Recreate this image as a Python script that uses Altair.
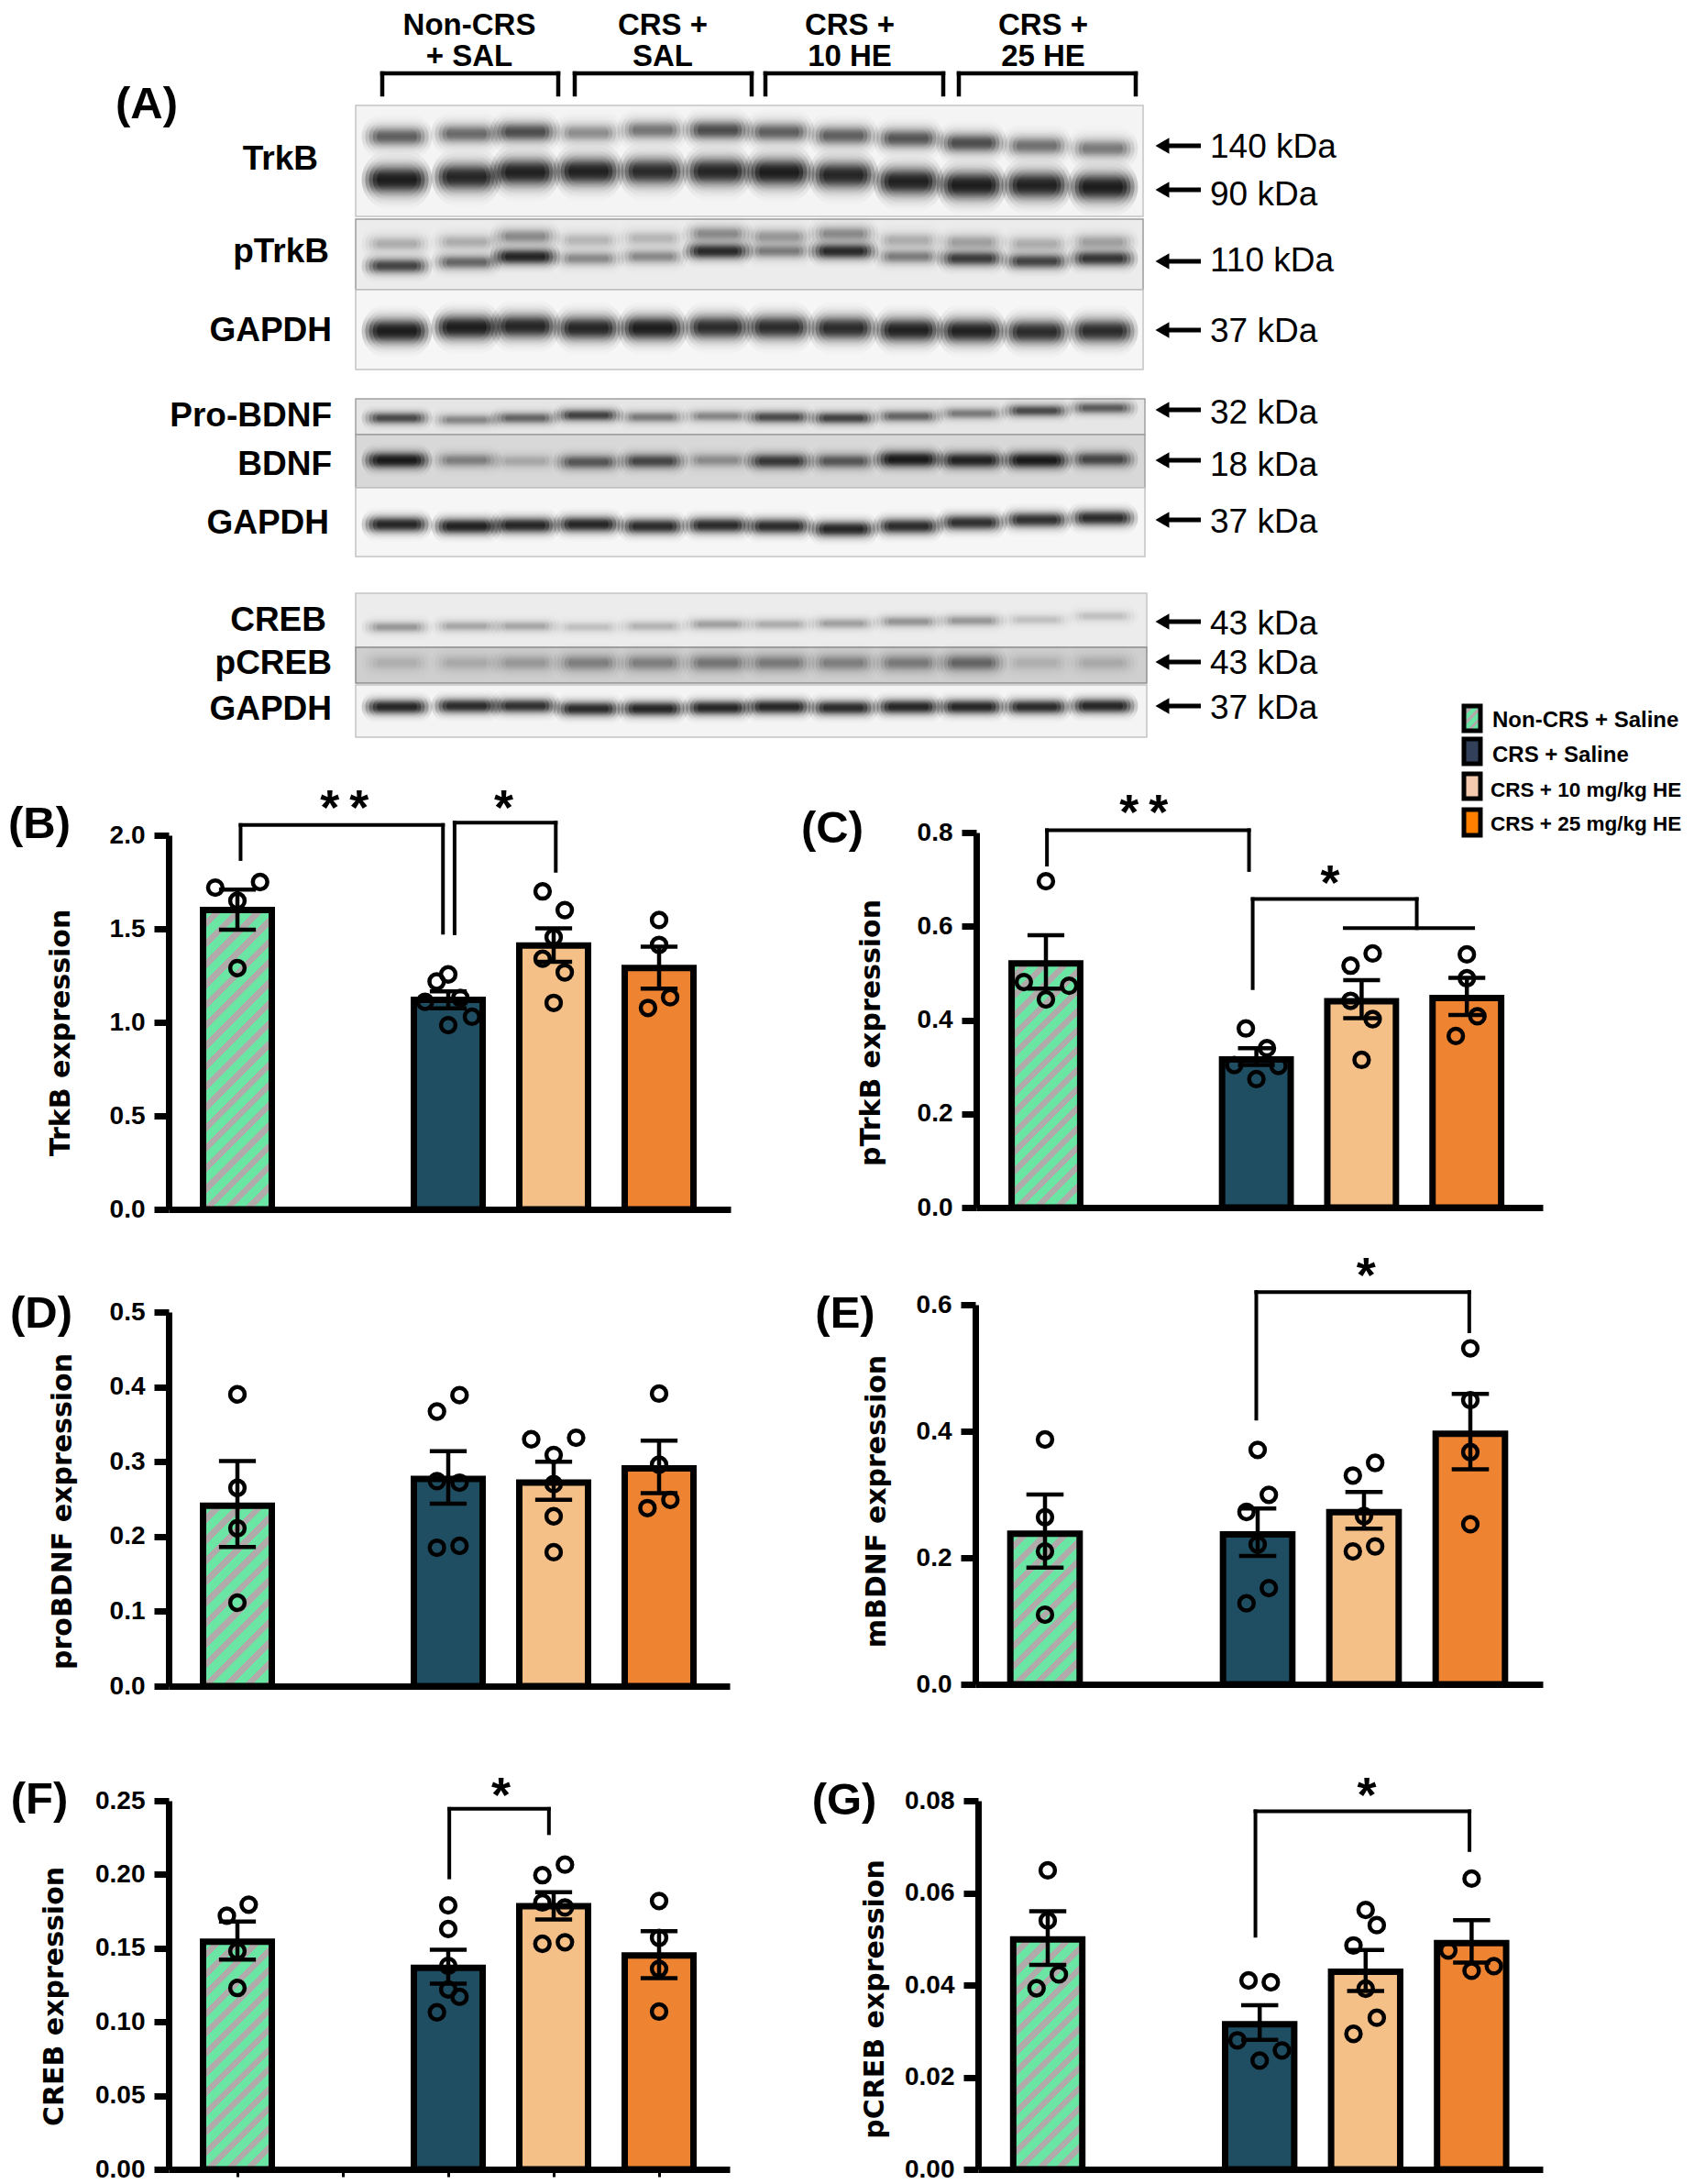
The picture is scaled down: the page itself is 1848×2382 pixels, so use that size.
import altair as alt
import pandas as pd

# ---------- measured data, one group of small lists per panel ----------
GROUP_IDX = [0, 2, 3, 4]
BAR_COLORS = ["#6be5a3", "#1f4e62", "#f5c088", "#ee8432"]

B_mean = [1.60, 1.12, 1.41, 1.29]
B_high = [1.71, 1.166, 1.503, 1.405]
B_low = [1.495, 1.075, 1.324, 1.18]
B_dot_g = [0, 0, 0, 0, 2, 2, 2, 2, 2, 2, 3, 3, 3, 3, 3, 3, 4, 4, 4, 4]
B_dot_o = [-.21, .215, 0, 0, 0, -.11, -.22, .115, .225, 0, -.105, .105, 0, -.105, .105, 0, 0, 0, .105, -.105]
B_dot_v = [1.72, 1.75, 1.65, 1.29, 1.256, 1.218, 1.11, 1.13, 1.03, .985, 1.70, 1.60, 1.455, 1.34, 1.267, 1.104, 1.547, 1.414, 1.134, 1.077]

C_mean = [.521, .316, .44, .447]
C_high = [.581, .34, .485, .49]
C_low = [.467, .304, .404, .411]
C_dot_g = [0, 0, 0, 0, 2, 2, 2, 2, 2, 3, 3, 3, 3, 3, 4, 4, 4, 4]
C_dot_o = [0, -.21, .22, 0, -.10, .10, -.21, .21, 0, .105, -.105, -.105, .105, 0, 0, 0, .10, -.105]
C_dot_v = [.696, .481, .473, .444, .382, .34, .304, .302, .274, .542, .516, .441, .402, .315, .54, .489, .408, .366]

D_mean = [.241, .277, .272, .291]
D_high = [.301, .314, .30, .328]
D_low = [.186, .244, .249, .258]
D_dot_g = [0, 0, 0, 0, 2, 2, 2, 2, 2, 2, 3, 3, 3, 3, 3, 3, 4, 4, 4, 4]
D_dot_o = [0, 0, 0, 0, .107, -.107, -.107, .107, -.107, .107, -.213, .213, 0, 0, 0, 0, 0, 0, .107, -.11]
D_dot_v = [.39, .265, .211, .1115, .389, .367, .274, .272, .185, .1875, .33, .332, .309, .27, .227, .179, .391, .296, .249, .238]

E_mean = [.238, .237, .272, .396]
E_high = [.30, .278, .304, .459]
E_low = [.1845, .203, .246, .34]
E_dot_g = [0, 0, 0, 0, 2, 2, 2, 2, 2, 2, 3, 3, 3, 3, 3, 4, 4, 4, 4]
E_dot_o = [0, 0, 0, 0, 0, .105, -.105, 0, .105, -.105, .105, -.105, 0, .105, -.105, 0, 0, 0, 0]
E_dot_v = [.387, .264, .21, .11, .3705, .2995, .2725, .221, .152, .128, .35, .33, .266, .218, .21, .531, .449, .367, .253]

F_mean = [.1544, .1366, .1785, .145]
F_high = [.168, .149, .188, .1615]
F_low = [.1423, .126, .1695, .1296]
F_dot_g = [0, 0, 0, 0, 2, 2, 2, 2, 2, 2, 3, 3, 3, 3, 3, 3, 4, 4, 4, 4]
F_dot_o = [.107, -.10, 0, 0, 0, 0, 0, 0, .107, -.107, .107, -.107, -.107, .107, -.107, .107, 0, 0, 0, 0]
F_dot_v = [.1795, .172, .148, .123, .179, .163, .138, .122, .117, .1065, .2067, .1995, .181, .1776, .153, .154, .182, .157, .136, .107]

G_mean = [.0499, .0315, .0429, .0491]
G_high = [.056, .0356, .0476, .0541]
G_low = [.0444, .0281, .0387, .0449]
G_dot_g = [0, 0, 0, 0, 2, 2, 2, 2, 2, 3, 3, 3, 3, 3, 3, 4, 4, 4, 4]
G_dot_o = [0, 0, .105, -.106, -.105, .105, -.21, .21, 0, 0, .105, -.115, 0, .105, -.115, 0, -.22, .21, 0]
G_dot_v = [.0649, .054, .0423, .0393, .041, .0406, .028, .0258, .0236, .0563, .053, .0486, .0392, .0329, .0294, .0631, .0475, .0441, .0431]

# significance brackets: x1, v1, x2, v2 in each panel's own data units
B_brk = [(0.03, 1.873, 0.03, 2.055), (0.03, 2.055, 1.95, 2.055), (1.95, 2.055, 1.95, 1.479),
         (2.06, 1.476, 2.06, 2.068), (2.06, 2.068, 3.02, 2.068), (3.02, 2.068, 3.02, 1.81)]
DOUBLE = "*\u2009*"
B_star = [(DOUBLE, 1.015, 2.187), ("*", 2.525, 2.187)]
C_brk = [(0.01, .7315, 0.01, .805), (0.01, .805, 1.93, .805), (1.93, .805, 1.93, .72),
         (1.965, .468, 1.965, .658), (1.965, .658, 3.524, .658), (3.524, .658, 3.524, .596),
         (2.84, .596, 4.06, .596)]
C_star = [(DOUBLE, .93, .859), ("*", 2.70, .709)]
E_brk = [(1.987, .42, 1.987, .62), (1.987, .62, 3.99, .62), (3.99, .62, 3.99, .558)]
E_star = [("*", 3.02, .658)]
F_brk = [(2.01, .198, 2.01, .2445), (2.01, .2445, 2.955, .2445), (2.955, .2445, 2.955, .228)]
F_star = [("*", 2.5, .2588)]
G_brk = [(1.96, .0507, 1.96, .0777), (1.96, .0777, 3.98, .0777), (3.98, .0777, 3.98, .0693)]
G_star = [("*", 3.01, .0828)]

# western-blot lanes: band centre (image y) and darkness per lane
LANE_X = [433, 509, 573, 642, 712, 783, 850, 920, 991, 1060, 1131, 1203]
TRKB_UP_Y = [149, 146, 144, 145, 142, 142, 144, 148, 151, 156, 159, 162]
TRKB_UP_D = [.5, .45, .6, .3, .4, .6, .5, .5, .55, .6, .42, .38]
TRKB_LO_Y = [196, 193, 188, 187, 187, 187, 188, 191, 198, 202, 202, 204]
TRKB_LO_D = [1, .9, .95, .95, .85, .9, 1, .9, .95, 1, .95, 1]
PTRKB_UP_Y = [266, 264, 258, 262, 260, 255, 258, 255, 262, 264, 266, 264]
PTRKB_UP_D = [.18, .18, .3, .15, .15, .3, .25, .3, .18, .22, .18, .22]
PTRKB_Y = [290, 286, 280, 282, 280, 274, 274, 274, 280, 282, 285, 282]
PTRKB_D = [.65, .45, .9, .3, .3, .85, .35, .85, .35, .7, .65, .75]
GAPDH1_Y = [361, 357, 356, 358, 358, 357, 357, 358, 360, 361, 362, 361]
GAPDH1_D = [1, 1, .9, .9, 1, .85, .85, .85, .95, .95, .85, .85]
PRO_Y = [456, 458, 456, 453, 455, 454, 455, 456, 454, 451, 448, 445]
PRO_D = [.6, .3, .45, .65, .35, .3, .6, .65, .45, .35, .6, .5]
BDNF_Y = [502, 502, 503, 504, 503, 502, 503, 503, 501, 502, 502, 501]
BDNF_D = [1, .3, .15, .5, .6, .25, .7, .5, 1, .9, 1, .6]
GAPDH2_Y = [572, 574, 573, 572, 574, 573, 574, 577, 574, 570, 567, 565]
GAPDH2_D = [.9, .95, .9, .9, .85, .85, .85, .9, .85, .8, .8, .85]
CREB_Y = [684, 683, 683, 684, 683, 681, 681, 680, 678, 677, 676, 672]
CREB_D = [.25, .2, .2, .12, .16, .22, .18, .22, .26, .25, .12, .12]
PCREB_Y = [723] * 12
PCREB_D = [.1, .12, .18, .28, .28, .32, .3, .28, .3, .4, .1, .12]
GAPDH3_Y = [771, 770, 770, 773, 773, 772, 771, 772, 771, 771, 771, 770]
GAPDH3_D = [.9, .85, .8, .85, .9, .9, .9, .85, .9, .9, .85, .9]

BLOT_BANDS = [
    (TRKB_UP_Y, TRKB_UP_D, 40), (TRKB_LO_Y, TRKB_LO_D, 52), (PTRKB_UP_Y, PTRKB_UP_D, 34),
    (PTRKB_Y, PTRKB_D, 30), (GAPDH1_Y, GAPDH1_D, 46), (PRO_Y, PRO_D, 24), (BDNF_Y, BDNF_D, 30),
    (GAPDH2_Y, GAPDH2_D, 30), (CREB_Y, CREB_D, 24), (PCREB_Y, PCREB_D, 36), (GAPDH3_Y, GAPDH3_D, 28),
]
BLOT_BOX_X0 = [388, 388, 388, 388, 388, 388, 388, 388, 388]
BLOT_BOX_X1 = [1247, 1247, 1247, 1249, 1249, 1249, 1251, 1251, 1251]
BLOT_BOX_Y0 = [115, 239, 316, 435, 474, 532, 647, 706, 747]
BLOT_BOX_Y1 = [236, 316, 403, 474, 532, 607, 706, 745, 804]
BLOT_BOX_C = ["#f4f4f4", "#ececec", "#f6f6f6", "#e6e6e6", "#d8d8d8", "#f6f6f6", "#ececec", "#cfcfcf", "#f4f4f4"]
BLOT_BOX_S = ["#c4c4c4", "#9a9a9a", "#c4c4c4", "#a0a0a0", "#a0a0a0", "#c4c4c4", "#c4c4c4", "#909090", "#c4c4c4"]

HEAD_TXT = ["Non-CRS", "+ SAL", "CRS +", "SAL", "CRS +", "10 HE", "CRS +", "25 HE"]
HEAD_X = [512, 512, 723, 723, 927, 927, 1138, 1138]
HEAD_Y = [28, 62, 28, 62, 28, 62, 28, 62]
HEAD_BR_X0 = [417, 627, 835, 1046]
HEAD_BR_X1 = [609, 820, 1029, 1239]
LEFT_TXT = ["TrkB", "pTrkB", "GAPDH", "Pro-BDNF", "BDNF", "GAPDH", "CREB", "pCREB", "GAPDH"]
LEFT_X = [347, 359, 362, 362, 362, 359, 356, 362, 362]
LEFT_Y = [174, 275, 361, 454, 507, 571, 677, 724, 774]
KDA_TXT = ["140 kDa", "90 kDa", "110 kDa", "37 kDa", "32 kDa", "18 kDa", "37 kDa", "43 kDa", "43 kDa", "37 kDa"]
KDA_Y = [161, 213, 285, 362, 451, 508, 570, 681, 724, 773]
ARROW_Y = [159, 207, 285, 360, 447, 502, 567, 678, 722, 770]
LETTER_TXT = ["(A)", "(B)", "(C)", "(D)", "(E)", "(F)", "(G)"]
LETTER_X = [160, 43, 908, 45, 922, 43, 921]
LETTER_Y = [114, 899, 904, 1433, 1433, 1963, 1964]
LEG_TXT_A = ["Non-CRS + Saline", "CRS + Saline"]
LEG_TXT_B = ["CRS + 10 mg/kg HE", "CRS + 25 mg/kg HE"]
LEG_Y0 = [770, 806, 844, 883]
LEG_Y1 = [797, 833, 871, 911]
LEG_C = ["#6be5a3", "#33405a", "#f5c9ad", "#ff7f00"]

# ---------- helpers ----------
W_PAGE, H_PAGE = 1848, 2382
MARGIN = 8
CH_W, CH_H = W_PAGE - 2 * MARGIN, H_PAGE - MARGIN
page_x = alt.Scale(domain=[0, W_PAGE], range=[-MARGIN, W_PAGE - MARGIN], nice=False, zero=False)
page_y = alt.Scale(domain=[0, H_PAGE], range=[-MARGIN, H_PAGE - MARGIN], nice=False, zero=False)
GREEN, STRIPE = "#6be5a3", "#b0aaaa"


def hatch(w, h, period=22):
    k = (1 / h + 1 / w) / (1 / h ** 2 + 1 / w ** 2)
    n = max(1, round((w + h) / period))
    stops = []
    for i in range(n):
        a, b, c = i / n, (i + .58) / n, (i + 1) / n
        stops += [dict(offset=a, color=GREEN), dict(offset=b, color=GREEN),
                  dict(offset=b, color=STRIPE), dict(offset=c, color=STRIPE)]
    return dict(gradient="linear", x1=0, y1=0, x2=k / h, y2=k / w, stops=stops)


def seg_layer(rows, xs, ys, width, color="black", cap="square"):
    df = pd.DataFrame(rows, columns=["x", "y", "x2", "y2"])
    return alt.Chart(df).mark_rule(strokeWidth=width, color=color, strokeCap=cap).encode(
        x=alt.X("x:Q", scale=xs, axis=None), x2="x2:Q",
        y=alt.Y("y:Q", scale=ys, axis=None), y2="y2:Q")


def text_layer(txt, x, y, size, align="center", weight="bold", font="Liberation Sans"):
    df = pd.DataFrame({"t": txt, "x": x, "y": y})
    return alt.Chart(df).mark_text(fontSize=size, font=font, fontWeight=weight, align=align,
                                   baseline="middle", color="black").encode(
        x=alt.X("x:Q", scale=page_x, axis=None), y=alt.Y("y:Q", scale=page_y, axis=None), text="t:N")


def panel(L, R, T, Bt, cx0, step, ymax, ticks, fmt, mean, high, low, dg, do, dv,
          title, tx, ty, tsize, brk=(), star=(), xticks=False):
    xs = alt.Scale(domain=[(L - cx0) / step, (R - cx0) / step], range=[L - MARGIN, R - MARGIN], nice=False, zero=False)
    ys = alt.Scale(domain=[0, ymax], range=[Bt - MARGIN, T - MARGIN], nice=False, zero=False)
    half = .326
    yaxis = alt.Axis(orient="left", offset=-(L - MARGIN), values=ticks, format=fmt, grid=False,
                     tickSize=16, tickWidth=7, tickColor="black", domainWidth=7, domainColor="black",
                     labelFont="Liberation Sans", labelFontWeight="bold", labelFontSize=28, labelColor="black",
                     labelPadding=10, labelOverlap=False, labelBound=False, labelFlush=False,
                     title=title, titleFont="DejaVu Sans", titleFontWeight="bold", titleFontSize=tsize,
                     titleColor="black", titleX=tx - L, titleY=ty - MARGIN, titleAngle=270,
                     titleAlign="center", titleBaseline="middle", zindex=1)
    axis_kw = dict(values=[0, 1, 2, 3, 4], ticks=True, tickSize=8, tickWidth=3, tickColor="black") if xticks else dict(ticks=False)
    xaxis = alt.Axis(orient="bottom", offset=(Bt - MARGIN) - CH_H, labels=False, grid=False,
                     title=None, domainWidth=7, domainColor="black", zindex=1, **axis_kw)
    df = pd.DataFrame({"g": GROUP_IDX, "v": mean, "hi": high, "lo": low, "c": BAR_COLORS})
    df["x0"], df["x1"], df["z"] = df.g - half, df.g + half, 0
    h0 = mean[0] / ymax * (Bt - T)
    hatched = alt.Chart(df.iloc[:1]).mark_rect(fill=hatch(step * 2 * half, h0), stroke="black", strokeWidth=7).encode(
        x=alt.X("x0:Q", scale=xs, axis=xaxis), x2="x1:Q",
        y=alt.Y("v:Q", scale=ys, axis=yaxis), y2="z:Q")
    solid = alt.Chart(df.iloc[1:]).mark_rect(stroke="black", strokeWidth=7).encode(
        x=alt.X("x0:Q", scale=xs, axis=None), x2="x1:Q",
        y=alt.Y("v:Q", scale=ys, axis=None), y2="z:Q", fill=alt.Fill("c:N", scale=None))
    err = []
    for g, hi, lo in zip(GROUP_IDX, high, low):
        err += [(g, hi, g, lo), (g - .175, hi, g + .175, hi), (g - .175, lo, g + .175, lo)]
    dots_df = pd.DataFrame({"x": [g + o for g, o in zip(dg, do)], "y": dv})
    dots = alt.Chart(dots_df).mark_point(shape="circle", size=250, filled=False, stroke="black", strokeWidth=4.5, opacity=1).encode(
        x=alt.X("x:Q", scale=xs, axis=None), y=alt.Y("y:Q", scale=ys, axis=None))
    layers = [hatched, solid, dots, seg_layer(err, xs, ys, 4.5, cap="butt")]
    if brk:
        layers.append(seg_layer([(a, b, c, d) for a, b, c, d in brk], xs, ys, 4))
    if star:
        sdf = pd.DataFrame(star, columns=["t", "x", "y"])
        layers.append(alt.Chart(sdf).mark_text(fontSize=54, font="Liberation Sans", fontWeight="bold",
                                               align="center", baseline="middle", dy=10, color="black").encode(
            x=alt.X("x:Q", scale=xs, axis=None), y=alt.Y("y:Q", scale=ys, axis=None), text="t:N"))
    return layers


# ---------- western-blot page layer ----------
page = []
box_df = pd.DataFrame({"x0": BLOT_BOX_X0, "x1": BLOT_BOX_X1, "y0": BLOT_BOX_Y0, "y1": BLOT_BOX_Y1,
                       "c": BLOT_BOX_C, "s": BLOT_BOX_S})
page.append(alt.Chart(box_df).mark_rect(strokeWidth=1.5).encode(
    x=alt.X("x0:Q", scale=page_x, axis=None), x2="x1:Q", y=alt.Y("y0:Q", scale=page_y, axis=None), y2="y1:Q",
    fill=alt.Fill("c:N", scale=None), stroke=alt.Stroke("s:N", scale=None)))

BAND_FILL = dict(gradient="linear", x1=0, y1=0, x2=0, y2=1, stops=[
    dict(offset=0, color="rgba(0,0,0,0)"), dict(offset=.2, color="rgba(0,0,0,.3)"),
    dict(offset=.38, color="rgba(0,0,0,.85)"), dict(offset=.5, color="rgba(0,0,0,1)"),
    dict(offset=.62, color="rgba(0,0,0,.85)"), dict(offset=.8, color="rgba(0,0,0,.3)"),
    dict(offset=1, color="rgba(0,0,0,0)")])
band_rows = []
for ys_, ds_, hh in BLOT_BANDS:
    for lx, by, d in zip(LANE_X, ys_, ds_):
        for fw, fh, fo in ((1.2, 1.3, .2), (1.08, 1.1, .28), (.95, .92, .36), (.82, .74, .45), (.68, .55, .45)):
            band_rows.append(dict(x0=lx - 32 * fw, x1=lx + 32 * fw, y0=by - hh / 2 * fh, y1=by + hh / 2 * fh, o=d * fo))
page.append(alt.Chart(pd.DataFrame(band_rows)).mark_rect(fill=BAND_FILL, cornerRadius=40).encode(
    x=alt.X("x0:Q", scale=page_x, axis=None), x2="x1:Q", y=alt.Y("y0:Q", scale=page_y, axis=None), y2="y1:Q",
    opacity=alt.Opacity("o:Q", scale=None)))

head_segs = []
for a, b in zip(HEAD_BR_X0, HEAD_BR_X1):
    head_segs += [(a, 103, a, 80), (a, 80, b, 80), (b, 80, b, 103)]
page.append(seg_layer(head_segs, page_x, page_y, 4.5))
page.append(text_layer(HEAD_TXT, HEAD_X, HEAD_Y, 33))
page.append(text_layer(LEFT_TXT, LEFT_X, LEFT_Y, 37, align="right"))
page.append(text_layer(KDA_TXT, [1320] * len(KDA_TXT), KDA_Y, 37, align="left", weight="normal"))
page.append(text_layer(LETTER_TXT, LETTER_X, LETTER_Y, 49))
page.append(seg_layer([(1268, y, 1310, y) for y in ARROW_Y], page_x, page_y, 5, cap="butt"))
page.append(alt.Chart(pd.DataFrame({"x": [1268] * len(ARROW_Y), "y": ARROW_Y})).mark_point(
    shape="triangle-left", size=300, filled=True, color="black", opacity=1).encode(
    x=alt.X("x:Q", scale=page_x, axis=None), y=alt.Y("y:Q", scale=page_y, axis=None)))

# legend
leg_df = pd.DataFrame({"x0": [1597] * 4, "x1": [1615] * 4, "y0": LEG_Y0, "y1": LEG_Y1, "c": LEG_C})
page.append(alt.Chart(leg_df.iloc[:1]).mark_rect(fill=hatch(18, 27, 12), stroke="black", strokeWidth=5).encode(
    x=alt.X("x0:Q", scale=page_x, axis=None), x2="x1:Q", y=alt.Y("y0:Q", scale=page_y, axis=None), y2="y1:Q"))
page.append(alt.Chart(leg_df.iloc[1:]).mark_rect(stroke="black", strokeWidth=5).encode(
    x=alt.X("x0:Q", scale=page_x, axis=None), x2="x1:Q", y=alt.Y("y0:Q", scale=page_y, axis=None), y2="y1:Q",
    fill=alt.Fill("c:N", scale=None)))
page.append(text_layer(LEG_TXT_A, [1628] * 2, [786, 824], 24, align="left"))
page.append(text_layer(LEG_TXT_B, [1626] * 2, [862, 899], 22.5, align="left"))

# ---------- the six bar panels ----------
TSIZE = 30
layers = list(page)
layers += panel(184, 797, 911, 1319, 259, 115, 2.0, [0, .5, 1, 1.5, 2], ".1f", B_mean, B_high, B_low, B_dot_g, B_dot_o, B_dot_v,
                "TrkB expression", 66, 1126, TSIZE, B_brk, B_star)
layers += panel(1065, 1683, 908, 1317, 1141, 114.8, .8, [0, .2, .4, .6, .8], ".1f", C_mean, C_high, C_low, C_dot_g, C_dot_o, C_dot_v,
                "pTrkB expression", 950, 1126, TSIZE, C_brk, C_star)
layers += panel(184, 796, 1431, 1839, 259, 115, .5, [0, .1, .2, .3, .4, .5], ".1f", D_mean, D_high, D_low, D_dot_g, D_dot_o, D_dot_v,
                "proBDNF expression", 68, 1648, TSIZE)
layers += panel(1064, 1683, 1423, 1837, 1140, 116, .6, [0, .2, .4, .6], ".1f", E_mean, E_high, E_low, E_dot_g, E_dot_o, E_dot_v,
                "mBDNF expression", 956, 1637, TSIZE, E_brk, E_star)
layers += panel(184, 796, 1964, 2366, 259, 115, .25, [0, .05, .1, .15, .2, .25], ".2f", F_mean, F_high, F_low, F_dot_g, F_dot_o, F_dot_v,
                "CREB expression", 59, 2177, TSIZE, F_brk, F_star, xticks=True)
layers += panel(1067, 1683, 1964, 2366, 1143, 115.6, .08, [0, .02, .04, .06, .08], ".2f", G_mean, G_high, G_low, G_dot_g, G_dot_o, G_dot_v,
                "pCREB expression", 954, 2180, TSIZE, G_brk, G_star)

chart = alt.layer(*layers).resolve_scale(x="independent", y="independent").properties(
    width=CH_W, height=CH_H, padding=0,
    autosize=alt.AutoSizeParams(type="none"),
    background="white",
).configure_view(stroke=None)

chart.save("out.html", embed_options={"renderer": "svg", "actions": False})
